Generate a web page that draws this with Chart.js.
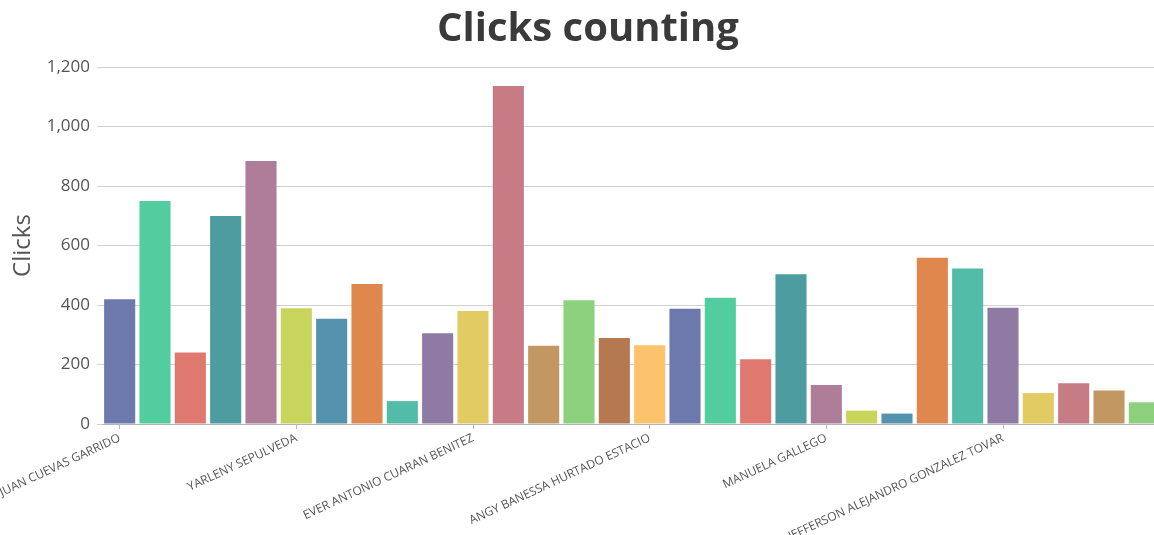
<!DOCTYPE html>
<html>
<head>
<meta charset="utf-8">
<script src="https://cdn.jsdelivr.net/npm/chart.js@4/dist/chart.umd.min.js"></script>
<style>
  html, body { margin: 0; padding: 0; background: #fff; overflow: hidden; width: 1154px; height: 535px; }
  #wrap { position: absolute; left: -20px; top: 0; width: 1216px; height: 535px; }
</style>
</head>
<body>
<div id="wrap"><canvas id="c"></canvas></div>
<script>
// Data
const names = [
  "JUAN CUEVAS GARRIDO", "", "", "", "",
  "YARLENY SEPULVEDA", "", "", "", "",
  "EVER ANTONIO CUARAN BENITEZ", "", "", "", "",
  "ANGY BANESSA HURTADO ESTACIO", "", "", "", "",
  "MANUELA GALLEGO", "", "", "", "",
  "JEFFERSON ALEJANDRO GONZALEZ TOVAR", "", "", "", ""
];
const clicks = [419, 750, 240, 699, 884, 389, 354, 471, 77, 305,
                380, 1136, 263, 416, 289, 265, 387, 424, 218, 503,
                131, 45, 35, 559, 523, 391, 104, 137, 113, 73];
const yTicks = [0, 200, 400, 600, 800, 1000, 1200];
const palette = ["#6D78AD","#51CDA0","#DF7970","#4C9CA0","#AE7D99","#C9D45C","#5592AD","#DF874D",
                 "#52BCA8","#8E7AA3","#E3CB64","#C77B85","#C39762","#8DD17E","#B57952","#FCC26C"];

const barColors = clicks.map((_, i) => palette[i % palette.length]);

new Chart(document.getElementById('c'), {
  type: 'bar',
  data: {
    labels: names,
    datasets: [{
      label: 'Clicks',
      data: clicks,
      backgroundColor: barColors,
      borderWidth: 0,
      barPercentage: 0.88,
      categoryPercentage: 1.0
    }]
  },
  options: {
    responsive: true,
    maintainAspectRatio: false,
    animation: false,
    layout: { padding: 0 },
    plugins: {
      legend: { display: false },
      tooltip: { enabled: false },
      title: {
        display: true,
        text: 'Clicks counting',
        color: '#3a3a3a',
        font: { family: 'Open Sans', size: 40, weight: 'bold' },
        padding: { top: 6, bottom: 13 }
      }
    },
    scales: {
      x: {
        offset: true,
        grid: {
          offset: false,
          drawOnChartArea: false,
          drawTicks: true,
          tickLength: 5,
          color: (ctx) => (ctx.index % 5 === 0 ? '#bbbbbb' : 'rgba(0,0,0,0)')
        },
        border: { display: true, color: '#b5b5b5', width: 1 },
        ticks: {
          autoSkip: false,
          minRotation: 25,
          maxRotation: 25,
          padding: 2,
          color: '#555555',
          font: { family: 'Open Sans', size: 12 }
        },
        afterFit: (s) => { s.height = 111; }
      },
      y: {
        min: 0,
        max: 1200,
        afterBuildTicks: (s) => { s.ticks = yTicks.map(v => ({ value: v })); },
        grid: { color: '#d2d2d2', tickLength: 5, drawTicks: true },
        border: { display: false },
        ticks: {
          padding: 7,
          color: '#555555',
          font: { family: 'Open Sans', size: 17 }
        },
        title: {
          display: true,
          text: 'Clicks',
          color: '#555555',
          font: { family: 'Open Sans', size: 24 },
          padding: { top: 29, bottom: 0 }
        },
        afterFit: (s) => { s.width = 122; }
      },
      y2: {
        position: 'right',
        display: true,
        grid: { display: false, drawTicks: false },
        border: { display: false },
        ticks: { display: false },
        afterFit: (s) => { s.width = 34; }
      }
    }
  }
});
</script>
</body>
</html>
